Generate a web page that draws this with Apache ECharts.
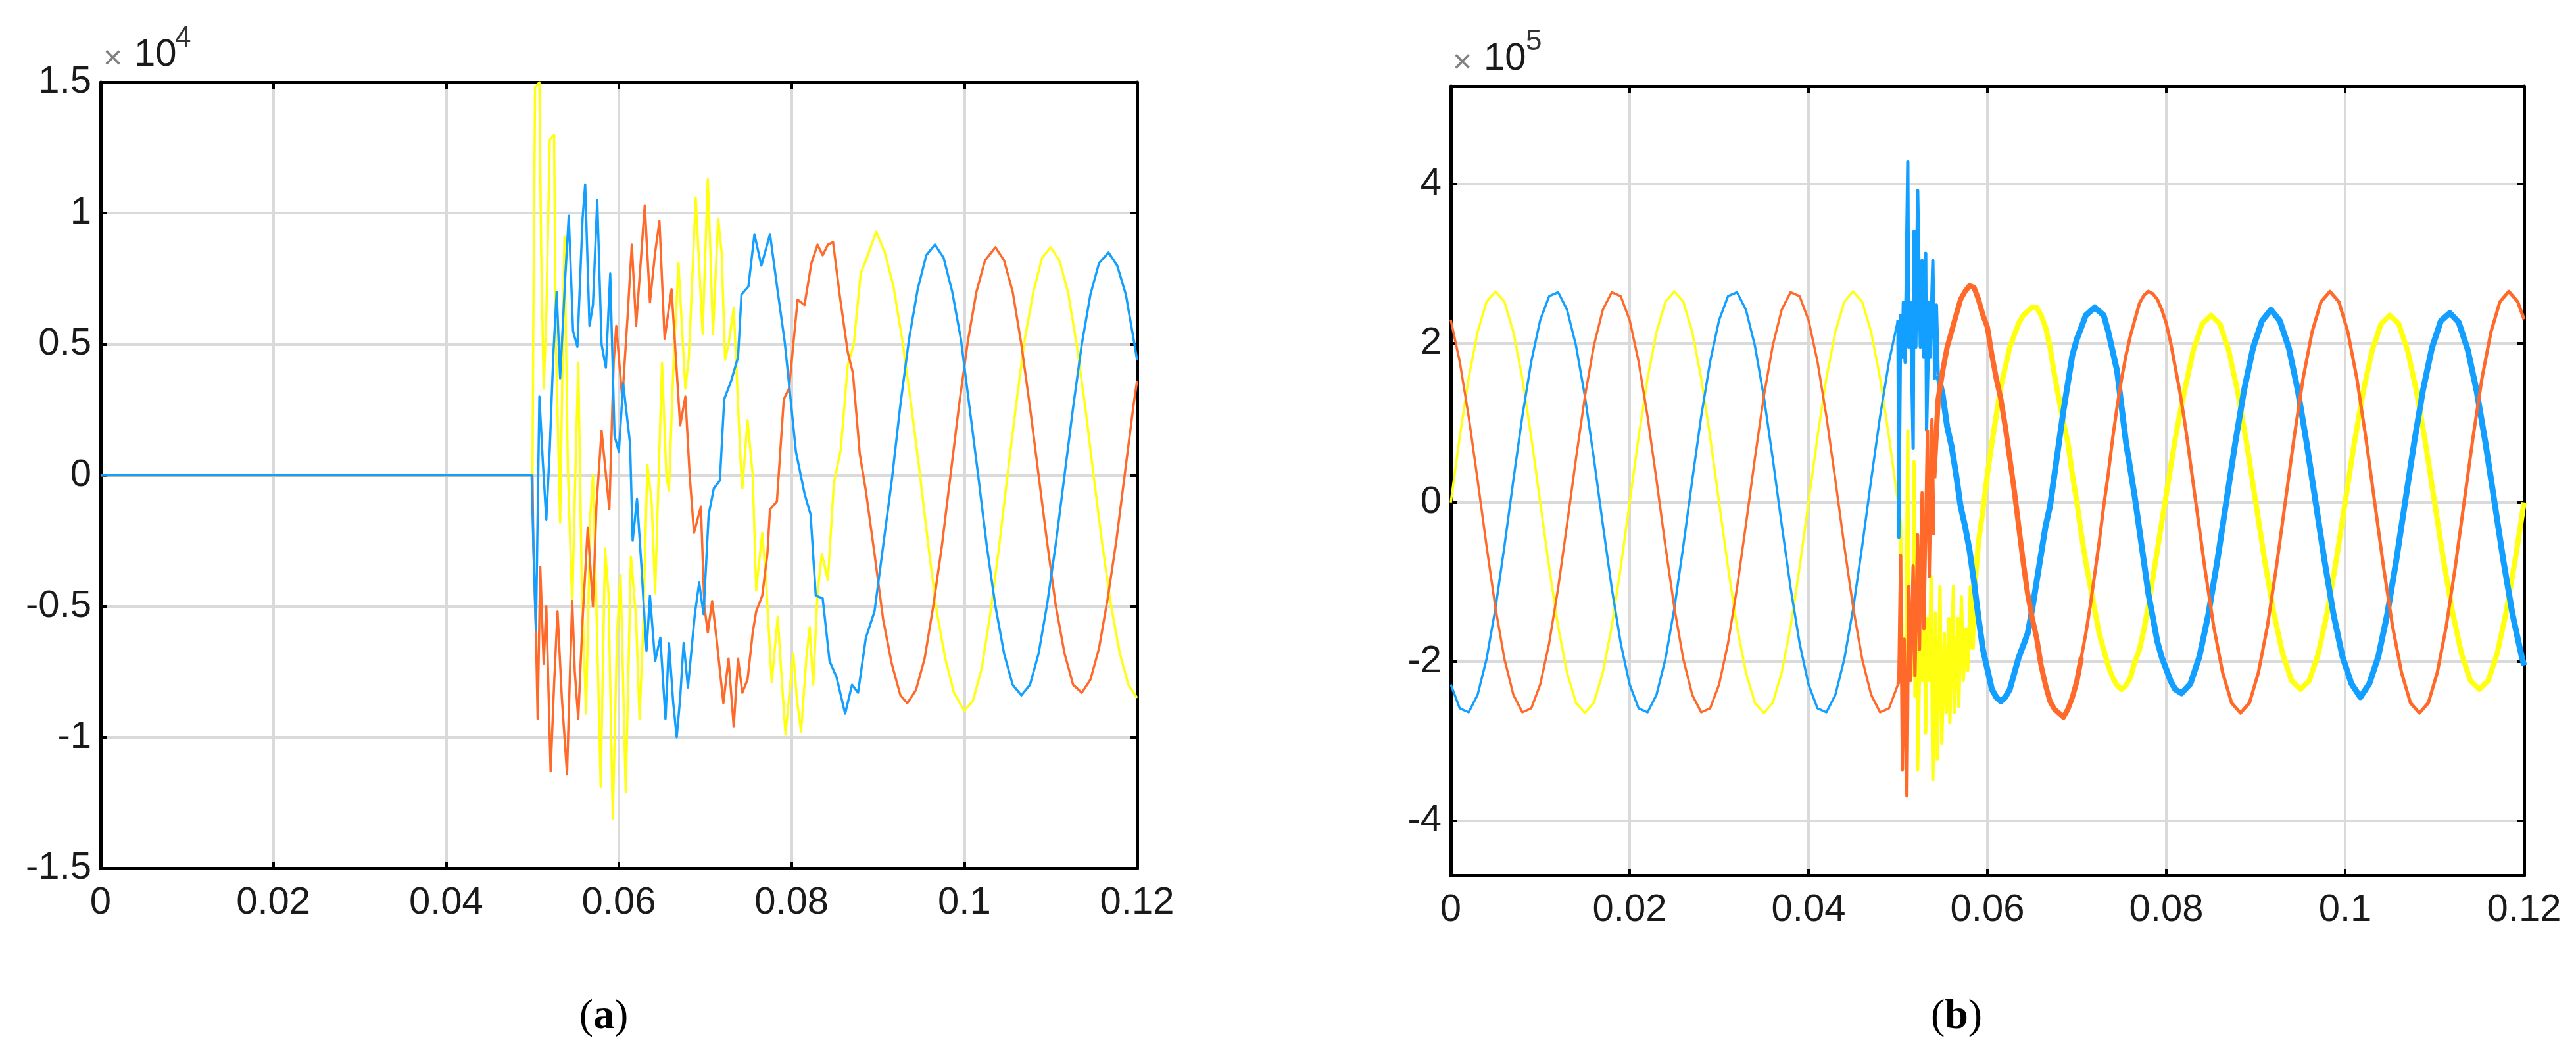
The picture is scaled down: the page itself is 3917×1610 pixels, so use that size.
<!DOCTYPE html>
<html>
<head>
<meta charset="utf-8">
<script src="https://cdn.jsdelivr.net/npm/echarts@6/dist/echarts.min.js"></script>
<style>
  html, body { margin: 0; padding: 0; background: #fff; }
  #chart { width: 3917px; height: 1610px; }
</style>
</head>
<body>
<div id="chart"></div>
<script>
// ---- shared axis values ----
const X_MIN = 0, X_MAX = 0.12, X_STEP = 0.02;
const A_Y_MIN = -1.5, A_Y_MAX = 1.5, A_Y_STEP = 0.5;      // (a) in units of 10^4
const B_Y_MIN = -4.69, B_Y_MAX = 5.23;                      // (b) in units of 10^5
const B_Y_TICKS = [-4, -2, 0, 2, 4];

// ---- (a) three phases (x10^4) ----
const LY_T = [0, 0.0500, 0.0501, 0.0503, 0.0508, 0.0510, 0.0513, 0.0516, 0.0520, 0.0525, 0.0527, 0.0532, 0.0537, 0.0541, 0.0546, 0.0550, 0.0553, 0.0557, 0.0562, 0.0567, 0.0570, 0.0574, 0.0579, 0.0584, 0.0588, 0.0593, 0.0598, 0.0602, 0.0608, 0.0614, 0.0620, 0.0624, 0.0628, 0.0633, 0.0638, 0.0642, 0.0647, 0.0650, 0.0655, 0.0658, 0.0663, 0.0669, 0.0677, 0.0681, 0.0685, 0.0689, 0.0697, 0.0703, 0.0706, 0.0709, 0.0715, 0.0719, 0.0723, 0.0727, 0.0733, 0.0741, 0.0743, 0.0749, 0.0755, 0.0759, 0.0766, 0.0770, 0.0777, 0.0784, 0.0788, 0.0793, 0.0802, 0.0806, 0.0811, 0.0817, 0.0821, 0.0825, 0.0830, 0.0835, 0.0842, 0.0849, 0.0857, 0.0865, 0.0872, 0.0880, 0.0886, 0.0898, 0.0908, 0.0918, 0.0928, 0.0938, 0.0948, 0.0958, 0.0968, 0.0978, 0.0988, 0.1000, 0.1010, 0.1020, 0.1030, 0.1040, 0.1050, 0.1060, 0.1070, 0.1080, 0.1090, 0.1100, 0.1110, 0.1120, 0.1130, 0.1140, 0.1150, 0.1160, 0.1170, 0.1180, 0.1190, 0.1200];
const LY_V = [0, 0, 0.59, 1.48, 1.50, 0.87, 0.33, 0.60, 1.28, 1.30, 0.52, -0.18, 0.91, 0.02, -0.50, 0.05, 0.43, -0.40, -0.91, -0.15, 0.00, -0.50, -1.19, -0.28, -0.45, -1.31, -0.60, -0.38, -1.21, -0.31, -0.55, -0.93, -0.60, 0.04, -0.10, -0.45, 0.10, 0.43, 0.00, -0.06, 0.40, 0.81, 0.33, 0.45, 0.75, 1.06, 0.54, 1.13, 0.85, 0.54, 0.98, 0.85, 0.44, 0.50, 0.64, 0.05, -0.05, 0.21, 0.00, -0.44, -0.22, -0.38, -0.79, -0.54, -0.75, -0.99, -0.68, -0.85, -0.98, -0.70, -0.58, -0.80, -0.45, -0.30, -0.40, -0.03, 0.10, 0.42, 0.50, 0.77, 0.82, 0.93, 0.85, 0.72, 0.52, 0.28, 0.02, -0.26, -0.52, -0.70, -0.83, -0.90, -0.86, -0.74, -0.53, -0.28, 0.00, 0.27, 0.52, 0.70, 0.83, 0.87, 0.82, 0.70, 0.50, 0.26, -0.01, -0.27, -0.50, -0.68, -0.80, -0.85];

const LO_T = [0, 0.0500, 0.0501, 0.0504, 0.0506, 0.0509, 0.0513, 0.0516, 0.0521, 0.0525, 0.0529, 0.0534, 0.0540, 0.0543, 0.0546, 0.0549, 0.0553, 0.0558, 0.0564, 0.0570, 0.0574, 0.0580, 0.0589, 0.0594, 0.0597, 0.0604, 0.0610, 0.0615, 0.0620, 0.0625, 0.0630, 0.0636, 0.0642, 0.0647, 0.0653, 0.0661, 0.0666, 0.0671, 0.0677, 0.0682, 0.0687, 0.0695, 0.0699, 0.0703, 0.0708, 0.0713, 0.0721, 0.0727, 0.0733, 0.0738, 0.0743, 0.0749, 0.0755, 0.0759, 0.0766, 0.0772, 0.0775, 0.0783, 0.0791, 0.0797, 0.0807, 0.0815, 0.0823, 0.0830, 0.0836, 0.0842, 0.0848, 0.0856, 0.0865, 0.0871, 0.0879, 0.0886, 0.0896, 0.0906, 0.0916, 0.0926, 0.0934, 0.0944, 0.0954, 0.0964, 0.0974, 0.0984, 0.0994, 0.1004, 0.1014, 0.1024, 0.1036, 0.1046, 0.1056, 0.1066, 0.1076, 0.1086, 0.1096, 0.1106, 0.1116, 0.1126, 0.1136, 0.1146, 0.1156, 0.1166, 0.1176, 0.1186, 0.1196, 0.1200];
const LO_V = [0, 0, -0.27, -0.60, -0.93, -0.35, -0.72, -0.50, -1.13, -0.80, -0.52, -0.85, -1.14, -0.80, -0.48, -0.75, -0.93, -0.55, -0.20, -0.50, -0.12, 0.17, -0.13, 0.43, 0.57, 0.29, 0.60, 0.88, 0.57, 0.80, 1.03, 0.66, 0.85, 0.97, 0.52, 0.71, 0.45, 0.19, 0.30, 0.00, -0.22, -0.12, -0.50, -0.60, -0.48, -0.62, -0.87, -0.70, -0.96, -0.70, -0.83, -0.78, -0.60, -0.52, -0.46, -0.30, -0.13, -0.10, 0.29, 0.33, 0.67, 0.65, 0.81, 0.88, 0.84, 0.88, 0.89, 0.68, 0.47, 0.39, 0.08, -0.06, -0.30, -0.55, -0.72, -0.84, -0.87, -0.82, -0.70, -0.50, -0.27, 0.00, 0.27, 0.51, 0.70, 0.82, 0.87, 0.82, 0.70, 0.50, 0.26, 0.00, -0.26, -0.50, -0.68, -0.80, -0.83, -0.78, -0.66, -0.47, -0.25, 0.01, 0.27, 0.36];

const LB_T = [0, 0.0499, 0.0501, 0.0504, 0.0506, 0.0508, 0.0512, 0.0516, 0.0520, 0.0524, 0.0528, 0.0532, 0.0538, 0.0542, 0.0547, 0.0552, 0.0558, 0.0561, 0.0566, 0.0570, 0.0575, 0.0580, 0.0585, 0.0590, 0.0595, 0.0600, 0.0605, 0.0613, 0.0616, 0.0621, 0.0626, 0.0632, 0.0636, 0.0642, 0.0648, 0.0654, 0.0658, 0.0663, 0.0667, 0.0671, 0.0675, 0.0680, 0.0688, 0.0693, 0.0698, 0.0704, 0.0710, 0.0717, 0.0722, 0.0730, 0.0738, 0.0742, 0.0750, 0.0757, 0.0765, 0.0775, 0.0784, 0.0792, 0.0797, 0.0805, 0.0815, 0.0822, 0.0828, 0.0836, 0.0844, 0.0852, 0.0862, 0.0870, 0.0877, 0.0886, 0.0896, 0.0906, 0.0916, 0.0926, 0.0936, 0.0946, 0.0956, 0.0966, 0.0976, 0.0986, 0.0996, 0.1006, 0.1016, 0.1026, 0.1036, 0.1046, 0.1056, 0.1066, 0.1076, 0.1086, 0.1096, 0.1106, 0.1116, 0.1126, 0.1136, 0.1146, 0.1156, 0.1167, 0.1177, 0.1187, 0.1197, 0.1200];
const LB_V = [0, 0, -0.26, -0.59, -0.15, 0.30, 0.05, -0.17, 0.10, 0.45, 0.70, 0.37, 0.76, 0.99, 0.55, 0.49, 0.98, 1.11, 0.57, 0.65, 1.05, 0.50, 0.41, 0.77, 0.15, 0.09, 0.35, 0.12, -0.25, -0.09, -0.34, -0.67, -0.46, -0.71, -0.62, -0.93, -0.64, -0.87, -1.00, -0.85, -0.64, -0.81, -0.53, -0.41, -0.53, -0.15, -0.05, -0.02, 0.29, 0.36, 0.45, 0.69, 0.72, 0.92, 0.80, 0.92, 0.70, 0.51, 0.35, 0.09, -0.07, -0.15, -0.46, -0.47, -0.71, -0.77, -0.91, -0.80, -0.83, -0.62, -0.52, -0.27, -0.02, 0.27, 0.52, 0.71, 0.84, 0.88, 0.83, 0.70, 0.52, 0.26, 0.00, -0.27, -0.50, -0.68, -0.80, -0.84, -0.80, -0.68, -0.49, -0.26, 0.00, 0.26, 0.50, 0.69, 0.81, 0.85, 0.80, 0.69, 0.50, 0.44];

// ---- (b) three phases (x10^5) ----
// steady part before the event
const R_PRE_T = [0, 0.001, 0.002, 0.003, 0.004, 0.005, 0.006, 0.007, 0.008, 0.009, 0.010, 0.011, 0.012, 0.013, 0.014, 0.015, 0.016, 0.017, 0.018, 0.019, 0.020, 0.021, 0.022, 0.023, 0.024, 0.025, 0.026, 0.027, 0.028, 0.029, 0.030, 0.031, 0.032, 0.033, 0.034, 0.035, 0.036, 0.037, 0.038, 0.039, 0.040, 0.041, 0.042, 0.043, 0.044, 0.045, 0.046, 0.047, 0.048, 0.049, 0.050];
const RY_PRE = [0, 0.82, 1.56, 2.14, 2.52, 2.65, 2.52, 2.14, 1.56, 0.82, 0, -0.82, -1.56, -2.14, -2.52, -2.65, -2.52, -2.14, -1.56, -0.82, 0, 0.82, 1.56, 2.14, 2.52, 2.65, 2.52, 2.14, 1.56, 0.82, 0, -0.82, -1.56, -2.14, -2.52, -2.65, -2.52, -2.14, -1.56, -0.82, 0, 0.82, 1.56, 2.14, 2.52, 2.65, 2.52, 2.14, 1.56, 0.82, 0];
const RB_PRE = [-2.29, -2.59, -2.64, -2.42, -1.97, -1.33, -0.55, 0.28, 1.08, 1.77, 2.29, 2.59, 2.64, 2.42, 1.97, 1.33, 0.55, -0.28, -1.08, -1.77, -2.29, -2.59, -2.64, -2.42, -1.97, -1.33, -0.55, 0.28, 1.08, 1.77, 2.29, 2.59, 2.64, 2.42, 1.97, 1.33, 0.55, -0.28, -1.08, -1.77, -2.29, -2.59, -2.64, -2.42, -1.97, -1.33, -0.55, 0.28, 1.08, 1.77, 2.29];
const RO_PRE = [2.29, 1.77, 1.08, 0.28, -0.55, -1.33, -1.97, -2.42, -2.64, -2.59, -2.29, -1.77, -1.08, -0.28, 0.55, 1.33, 1.97, 2.42, 2.64, 2.59, 2.29, 1.77, 1.08, 0.28, -0.55, -1.33, -1.97, -2.42, -2.64, -2.59, -2.29, -1.77, -1.08, -0.28, 0.55, 1.33, 1.97, 2.42, 2.64, 2.59, 2.29, 1.77, 1.08, 0.28, -0.55, -1.33, -1.97, -2.42, -2.64, -2.59, -2.29];

// burst of spikes right after the event (strokes top/bottom)
const RY_B_T = [0.0500, 0.0503, 0.0505, 0.0507, 0.0508, 0.0511, 0.0512, 0.0514, 0.0516, 0.0518, 0.0519, 0.0521, 0.0522, 0.0525, 0.0527, 0.0529, 0.0531, 0.0533, 0.0535, 0.0537, 0.0539, 0.0542, 0.0544, 0.0547, 0.0549, 0.0552, 0.0554, 0.0557, 0.0558, 0.0562, 0.0563, 0.0567, 0.0568, 0.0571, 0.0573, 0.0576, 0.0578, 0.0581, 0.0583];
const RY_B_V = [0.00, -0.28, -2.24, -1.72, -2.96, 0.90, -2.05, -1.72, -2.18, 0.51, -2.44, -1.06, -3.36, -1.65, -2.24, -1.06, -2.90, -1.46, -2.24, -0.93, -3.49, -1.39, -3.23, -1.06, -3.03, -1.65, -2.64, -1.46, -2.77, -1.06, -2.64, -1.46, -2.57, -1.19, -2.24, -1.59, -2.11, -1.06, -1.85];
const RB_B_T = [0.0500, 0.0501, 0.0503, 0.0505, 0.0506, 0.0508, 0.0511, 0.0512, 0.0514, 0.0517, 0.0518, 0.0520, 0.0522, 0.0525, 0.0527, 0.0529, 0.0531, 0.0532, 0.0535, 0.0536, 0.0539, 0.0541, 0.0543, 0.0545];
const RB_B_V = [2.29, -0.44, 2.35, 1.82, 2.51, 1.76, 4.28, 1.95, 2.51, 0.68, 3.41, 1.95, 3.92, 1.95, 3.04, 1.82, 3.13, 0.90, 2.51, 1.82, 3.04, 1.56, 2.48, 1.60];
const RO_B_T = [0.0500, 0.0501, 0.0503, 0.0505, 0.0507, 0.0510, 0.0512, 0.0514, 0.0517, 0.0519, 0.0522, 0.0524, 0.0527, 0.0529, 0.0533, 0.0535, 0.0538, 0.0540];
const RO_B_V = [-2.29, -2.24, -0.67, -3.36, -1.72, -3.69, -1.06, -2.24, -0.80, -2.18, -0.41, -1.85, 0.12, -1.59, 0.90, -0.93, 1.04, -0.41];

// noisy (thicker) traces after the burst
const RY_P_T = [0.0583, 0.0585, 0.0590, 0.0595, 0.0600, 0.0605, 0.0610, 0.0615, 0.0620, 0.0625, 0.0630, 0.0635, 0.0640, 0.0645, 0.0650, 0.0655, 0.0660, 0.0665, 0.0670, 0.0675, 0.0680, 0.0685, 0.0690, 0.0695, 0.0700, 0.0705, 0.0710, 0.0715, 0.0720, 0.0725, 0.0730, 0.0735, 0.0740, 0.0745, 0.0750, 0.0755, 0.0760, 0.0765, 0.0770, 0.0775, 0.0780, 0.0785, 0.0790, 0.0795, 0.0800, 0.0805, 0.0810, 0.0815, 0.0820, 0.083, 0.084, 0.085, 0.086, 0.087, 0.088, 0.089, 0.090, 0.091, 0.092, 0.093, 0.094, 0.095, 0.096, 0.097, 0.098, 0.099, 0.100, 0.101, 0.102, 0.103, 0.104, 0.105, 0.106, 0.107, 0.108, 0.109, 0.110, 0.111, 0.112, 0.113, 0.114, 0.115, 0.116, 0.117, 0.118, 0.119, 0.120];
const RY_P_V = [-1.85, -1.20, -0.50, -0.10, 0.35, 0.75, 1.10, 1.45, 1.70, 1.95, 2.10, 2.25, 2.35, 2.40, 2.45, 2.45, 2.35, 2.20, 1.95, 1.60, 1.30, 1.00, 0.75, 0.35, 0.00, -0.40, -0.75, -1.05, -1.35, -1.65, -1.85, -2.05, -2.20, -2.30, -2.35, -2.30, -2.20, -2.00, -1.85, -1.60, -1.30, -0.95, -0.60, -0.25, 0.10, 0.45, 0.80, 1.10, 1.38, 1.90, 2.24, 2.35, 2.24, 1.90, 1.38, 0.73, 0.00, -0.73, -1.38, -1.90, -2.24, -2.35, -2.24, -1.90, -1.38, -0.73, 0.00, 0.73, 1.38, 1.90, 2.24, 2.35, 2.24, 1.90, 1.38, 0.73, 0.00, -0.73, -1.38, -1.90, -2.24, -2.35, -2.24, -1.90, -1.38, -0.73, 0.00];

const RB_P_T = [0.0545, 0.0550, 0.0555, 0.0560, 0.0565, 0.0570, 0.0575, 0.0580, 0.0585, 0.0590, 0.0595, 0.0600, 0.0605, 0.0610, 0.0615, 0.0620, 0.0625, 0.0630, 0.0635, 0.0640, 0.0645, 0.0650, 0.0655, 0.0660, 0.0665, 0.0670, 0.0675, 0.0680, 0.0685, 0.0690, 0.0695, 0.0700, 0.0705, 0.0710, 0.0715, 0.0720, 0.0725, 0.0730, 0.0735, 0.0740, 0.0745, 0.0750, 0.0755, 0.0760, 0.0765, 0.0770, 0.0775, 0.0780, 0.0785, 0.0790, 0.0795, 0.0800, 0.0805, 0.0810, 0.0817, 0.0827, 0.0837, 0.0847, 0.0857, 0.0867, 0.0877, 0.0887, 0.0897, 0.0907, 0.0917, 0.0927, 0.0937, 0.0947, 0.0957, 0.0967, 0.0977, 0.0987, 0.0997, 0.1007, 0.1017, 0.1027, 0.1037, 0.1047, 0.1057, 0.1067, 0.1077, 0.1087, 0.1097, 0.1107, 0.1117, 0.1127, 0.1137, 0.1147, 0.1157, 0.1167, 0.1177, 0.1187, 0.1197, 0.1200];
const RB_P_V = [1.60, 1.35, 0.95, 0.70, 0.35, -0.05, -0.30, -0.60, -1.00, -1.45, -1.85, -2.10, -2.35, -2.45, -2.50, -2.45, -2.35, -2.15, -1.95, -1.80, -1.65, -1.35, -1.00, -0.65, -0.30, -0.05, 0.35, 0.75, 1.15, 1.50, 1.85, 2.05, 2.20, 2.35, 2.40, 2.45, 2.40, 2.35, 2.15, 1.90, 1.65, 1.20, 0.75, 0.40, 0.05, -0.35, -0.75, -1.15, -1.45, -1.75, -1.95, -2.10, -2.25, -2.35, -2.40, -2.28, -1.94, -1.41, -0.74, 0.00, 0.74, 1.41, 1.94, 2.28, 2.42, 2.28, 1.94, 1.41, 0.74, 0.00, -0.74, -1.41, -1.94, -2.28, -2.45, -2.28, -1.94, -1.41, -0.74, 0.00, 0.74, 1.41, 1.94, 2.28, 2.38, 2.26, 1.92, 1.40, 0.74, 0.00, -0.74, -1.40, -1.92, -2.05];

const RO_W_T = [0.0540, 0.0545, 0.0550, 0.0555, 0.0560, 0.0565, 0.0570, 0.0575, 0.0580, 0.0585, 0.0590, 0.0595, 0.0600, 0.0605, 0.0610, 0.0615, 0.0620, 0.0625, 0.0630, 0.0635, 0.0640, 0.0645, 0.0650, 0.0655, 0.0660, 0.0665, 0.0670, 0.0675, 0.0680, 0.0685, 0.0690, 0.0695, 0.0700, 0.0705];
const RO_W_V = [0.30, 1.30, 1.65, 1.95, 2.15, 2.35, 2.55, 2.65, 2.72, 2.70, 2.55, 2.35, 2.20, 1.85, 1.55, 1.30, 0.95, 0.55, 0.15, -0.30, -0.75, -1.15, -1.45, -1.70, -2.05, -2.30, -2.50, -2.60, -2.65, -2.70, -2.60, -2.45, -2.25, -1.95];
const RO_N_T = [0.0700, 0.0705, 0.0710, 0.0715, 0.0720, 0.0725, 0.0730, 0.0735, 0.0740, 0.0745, 0.0750, 0.0755, 0.0760, 0.0765, 0.0770, 0.0775, 0.0780, 0.0785, 0.0790, 0.0795, 0.0800, 0.0805, 0.0810, 0.0815, 0.0820, 0.0823, 0.0833, 0.0843, 0.0853, 0.0863, 0.0873, 0.0883, 0.0893, 0.0903, 0.0913, 0.0923, 0.0933, 0.0943, 0.0953, 0.0963, 0.0973, 0.0983, 0.0993, 0.1003, 0.1013, 0.1023, 0.1033, 0.1043, 0.1053, 0.1063, 0.1073, 0.1083, 0.1093, 0.1103, 0.1113, 0.1123, 0.1133, 0.1143, 0.1153, 0.1163, 0.1173, 0.1183, 0.1193, 0.1200];
const RO_N_V = [-2.25, -1.95, -1.65, -1.30, -0.90, -0.50, -0.05, 0.35, 0.80, 1.20, 1.55, 1.85, 2.10, 2.30, 2.50, 2.60, 2.65, 2.62, 2.55, 2.42, 2.25, 2.00, 1.70, 1.40, 1.05, 0.82, 0.00, -0.82, -1.56, -2.14, -2.52, -2.65, -2.52, -2.14, -1.56, -0.82, 0.00, 0.82, 1.56, 2.14, 2.52, 2.65, 2.52, 2.14, 1.56, 0.82, 0.00, -0.82, -1.56, -2.14, -2.52, -2.65, -2.52, -2.14, -1.56, -0.82, 0.00, 0.82, 1.56, 2.14, 2.52, 2.65, 2.52, 2.30];

// ---- styling ----
const YELLOW = '#ffff11', BLUE = '#139fff', ORANGE = '#ff6929';
const FONT = '"Liberation Sans", Arial, Helvetica, sans-serif';
const SERIF = '"Liberation Serif", "Times New Roman", serif';

function pairs(t, v) {
  const n = Math.min(t.length, v.length);
  const out = [];
  for (let i = 0; i < n; i++) out.push([t[i], v[i]]);
  return out;
}

// axis: 0 -> panel (a), 2 -> panel (b)
function trace(axis, t, v, color, width) {
  return {
    type: 'line',
    xAxisIndex: axis, yAxisIndex: axis,
    data: pairs(t, v),
    showSymbol: false, symbol: 'none',
    lineStyle: { color, width, join: 'round', cap: 'butt' },
    itemStyle: { color },
    silent: true
  };
}

function xAxis(grid, pos) {
  const main = pos === 'bottom';
  return {
    type: 'value', gridIndex: grid, position: pos,
    min: X_MIN, max: X_MAX, interval: X_STEP,
    axisLine: { show: true, onZero: false, lineStyle: { color: '#000', width: 5 } },
    axisTick: { show: true, inside: true, length: 10, lineStyle: { color: '#000', width: 4 } },
    axisLabel: { show: main, margin: 24, fontSize: 58, fontFamily: FONT, color: '#1a1a1a', showMinLabel: true, showMaxLabel: true },
    splitLine: { show: main, lineStyle: { color: '#dadada', width: 4 } }
  };
}

function yAxisA(pos) {
  const main = pos === 'left';
  return {
    type: 'value', gridIndex: 0, position: pos,
    min: A_Y_MIN, max: A_Y_MAX, interval: A_Y_STEP,
    axisLine: { show: true, onZero: false, lineStyle: { color: '#000', width: 5 } },
    axisTick: { show: true, inside: true, length: 10, lineStyle: { color: '#000', width: 4 } },
    axisLabel: { show: main, margin: 14, fontSize: 58, fontFamily: FONT, color: '#1a1a1a', showMinLabel: true, showMaxLabel: true },
    splitLine: { show: main, lineStyle: { color: '#dadada', width: 4 } }
  };
}

function yAxisB(pos) {
  const main = pos === 'left';
  return {
    type: 'value', gridIndex: 1, position: pos,
    min: B_Y_MIN, max: B_Y_MAX,
    axisLine: { show: true, onZero: false, lineStyle: { color: '#000', width: 5 } },
    axisTick: { show: true, inside: true, length: 10, customValues: B_Y_TICKS, lineStyle: { color: '#000', width: 4 } },
    axisLabel: { show: main, margin: 14, customValues: B_Y_TICKS, fontSize: 58, fontFamily: FONT, color: '#1a1a1a' },
    splitLine: { show: main, lineStyle: { color: '#dadada', width: 4 } }
  };
}

function caption(x, letter) {
  return {
    type: 'text', x, y: 1546,
    style: {
      text: '{p|(}{b|' + letter + '}{p|)}',
      align: 'center', verticalAlign: 'middle', textAlign: 'center', textVerticalAlign: 'middle',
      rich: { p: { font: '64px ' + SERIF, fill: '#000' }, b: { font: 'bold 64px ' + SERIF, fill: '#000' } }
    }
  };
}

function txt(x, y, text, size, fill) {
  return { type: 'text', x, y, style: { text, font: size + 'px ' + FONT, fill, verticalAlign: 'middle', textVerticalAlign: 'middle' } };
}

const chart = echarts.init(document.getElementById('chart'), null, { renderer: 'canvas' });

chart.setOption({
  backgroundColor: '#ffffff',
  animation: false,
  grid: [
    { left: 153, top: 125, width: 1576, height: 1195 },
    { left: 2206, top: 131, width: 1632, height: 1200 }
  ],
  xAxis: [xAxis(0, 'bottom'), xAxis(0, 'top'), xAxis(1, 'bottom'), xAxis(1, 'top')],
  yAxis: [yAxisA('left'), yAxisA('right'), yAxisB('left'), yAxisB('right')],
  series: [
    // (a): blue drawn last so the flat part shows blue
    trace(0, LY_T, LY_V, YELLOW, 3.5),
    trace(0, LO_T, LO_V, ORANGE, 3.5),
    trace(0, LB_T, LB_V, BLUE, 3.5),
    // (b)
    trace(2, R_PRE_T, RY_PRE, YELLOW, 3.5),
    trace(2, RY_B_T, RY_B_V, YELLOW, 5),
    trace(2, RY_P_T, RY_P_V, YELLOW, 8),
    trace(2, R_PRE_T, RB_PRE, BLUE, 3.5),
    trace(2, RB_B_T, RB_B_V, BLUE, 5),
    trace(2, RB_P_T, RB_P_V, BLUE, 9),
    trace(2, R_PRE_T, RO_PRE, ORANGE, 3.5),
    trace(2, RO_B_T, RO_B_V, ORANGE, 5),
    trace(2, RO_W_T, RO_W_V, ORANGE, 8),
    trace(2, RO_N_T, RO_N_V, ORANGE, 5)
  ],
  graphic: [
    txt(157, 90, '\u00d7', 50, '#808080'),
    txt(204, 84, '10', 58, '#1a1a1a'),
    txt(266, 59, '4', 44, '#333'),
    txt(2209, 96, '\u00d7', 50, '#808080'),
    txt(2256, 90, '10', 58, '#1a1a1a'),
    txt(2320, 64, '5', 44, '#333'),
    caption(918, 'a'),
    caption(2975, 'b')
  ]
});
</script>
</body>
</html>
